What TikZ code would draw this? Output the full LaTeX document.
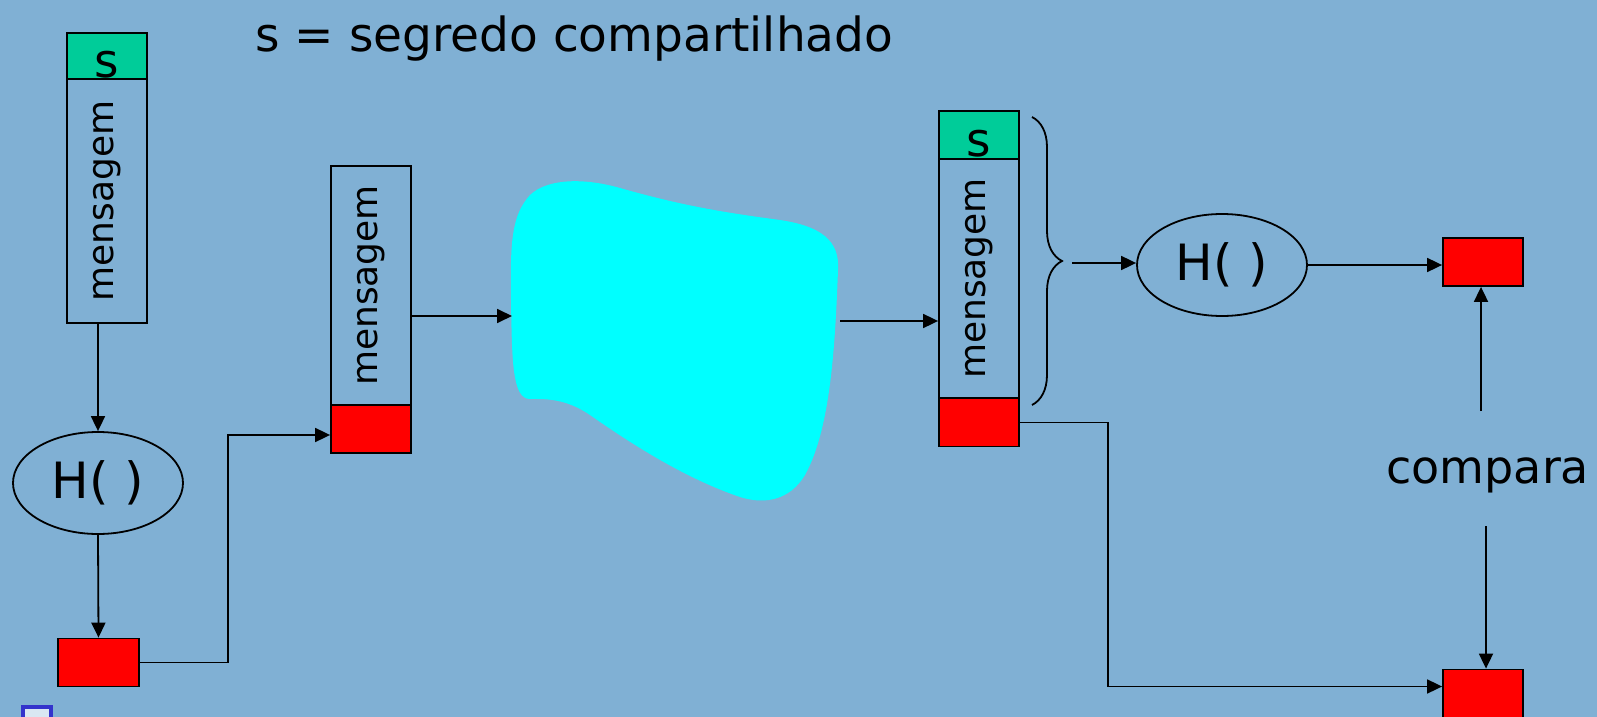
\documentclass[tikz,border=0pt]{standalone}
\usepackage{fontspec}
\setmainfont{DejaVu Sans}
\usetikzlibrary{arrows.meta,shapes.geometric,decorations.pathreplacing,calc}

\definecolor{bgblue}{RGB}{128,176,212}
\definecolor{secretgreen}{RGB}{0,204,153}
\definecolor{hashred}{RGB}{255,0,0}
\definecolor{netcyan}{RGB}{0,255,255}
\definecolor{bulletblue}{RGB}{51,51,204}

\def\titleFont{\fontsize{23.5}{26}\selectfont}
\def\msgFont{\fontsize{18}{20}\selectfont}
\def\hashFont{\fontsize{25}{28}\selectfont}
\def\cmpFont{\fontsize{23}{26}\selectfont}

\begin{document}
\begin{tikzpicture}[x=0.5pt,y=-0.5pt,
    box/.style={draw,line width=0.9pt,inner sep=0pt,minimum width=40pt},
    msgbox/.style={box},
    sbox/.style={box,fill=secretgreen,minimum height=24pt},
    digbox/.style={box,fill=hashred,minimum height=24pt},
    hashfn/.style={draw,line width=0.9pt,ellipse,inner sep=0pt,
        minimum width=85pt,minimum height=51pt,font=\hashFont},
    vtext/.style={rotate=90,font=\msgFont},
    stext/.style={anchor=base,inner sep=0pt,font=\titleFont},
    conn/.style={line width=0.9pt},
    arr/.style={conn,-{Triangle[length=7.5pt,width=7pt]}}]

    % Background
    \useasboundingbox (0,0) rectangle (1597,717);
    \fill[bgblue] (0,0) rectangle (1597,717);

    \node[anchor=base west,inner sep=0pt,font=\titleFont] (title) at (255,52) {s = segredo compartilhado};

    % sender
    \node[sbox,minimum height=23pt] (s1) at (107,56) {};
    \node[msgbox,minimum height=122pt] (msg1) at (107,201) {};
    \node[vtext] (msg1txt) at (msg1) {mensagem};
    \node[stext] (s1txt) at ($(s1.south)+(0,-2)$) {s};
    \node[hashfn] (h1) at (98,483) {H( )};
    \node[digbox,minimum width=40.5pt] (dig1) at (98.5,662.5) {};

    \draw[arr] (msg1.south -| h1.north) -- (h1.north);
    \draw[arr] (h1.south) -- (dig1.north);

    % sent message
    \node[msgbox,minimum height=119.5pt] (msg2) at (371,285.5) {};
    \node[vtext] (msg2txt) at (msg2) {mensagem};
    \node[digbox] (dig2) at (371,429) {};

    \draw[arr] (dig1.east) -- ++(88,0) |- ($(dig2.west)+(0,6)$);

    % network
    \fill[netcyan] (511,300) .. controls (510,240) and (512,215) .. (530,195)
        .. controls (548,178) and (585,178) .. (620,188)
        .. controls (680,205) and (720,212) .. (780,220)
        .. controls (820,226) and (840,240) .. (838,270)
        .. controls (835,350) and (830,430) .. (805,475)
        .. controls (790,500) and (765,505) .. (740,497)
        .. controls (690,480) and (640,450) .. (590,415)
        .. controls (565,398) and (545,399) .. (530,399)
        .. controls (512,399) and (512,360) .. (511,300) -- cycle;
    \coordinate (netin) at (512,316);
    \coordinate (netout) at (840,321);

    \draw[arr] (msg2.east |- netin) -- (netin);

    % receiver
    \node[sbox] (s3) at (979,135) {};
    \node[msgbox,minimum height=119.5pt] (msg3) at (979,278.5) {};
    \node[vtext] (msg3txt) at (msg3) {mensagem};
    \node[stext] (s3txt) at ($(s3.south)+(0,-3)$) {s};
    \node[digbox] (dig3) at (979,422.5) {};

    \draw[arr] (netout) -- (netout -| msg3.west);

    \draw[conn,decorate,decoration={brace,amplitude=15pt}] (1032,117) -- (1032,405);
    \coordinate (bracetip) at (1072,263);

    \node[hashfn] (h2) at (1222,265) {H( )};
    \node[digbox] (dig4) at (1483,262) {};

    \draw[arr] (bracetip) -- (bracetip -| h2.west);
    \draw[arr] (h2.east) -- (h2.east -| dig4.west);

    % compare
    \node[anchor=base west,inner sep=0pt,font=\cmpFont] (cmp) at (1386,483) {compara};
    \coordinate (cmptop) at (1481,411);
    \coordinate (cmpbot) at (1486,526);
    \node[digbox] (dig5) at (1483,693.5) {};

    \draw[arr] (cmptop) -- (cmptop |- dig4.south);
    \draw[arr] (cmpbot) -- (cmpbot |- dig5.north);
    \draw[arr] (dig3.east) -- ++(88,0) |- ($(dig5.west)+(0,-7)$);

    % bullet
    \draw[bulletblue,line width=2pt,fill=white!70!bgblue] (23,707) rectangle (51,740);

\end{tikzpicture}
\end{document}
